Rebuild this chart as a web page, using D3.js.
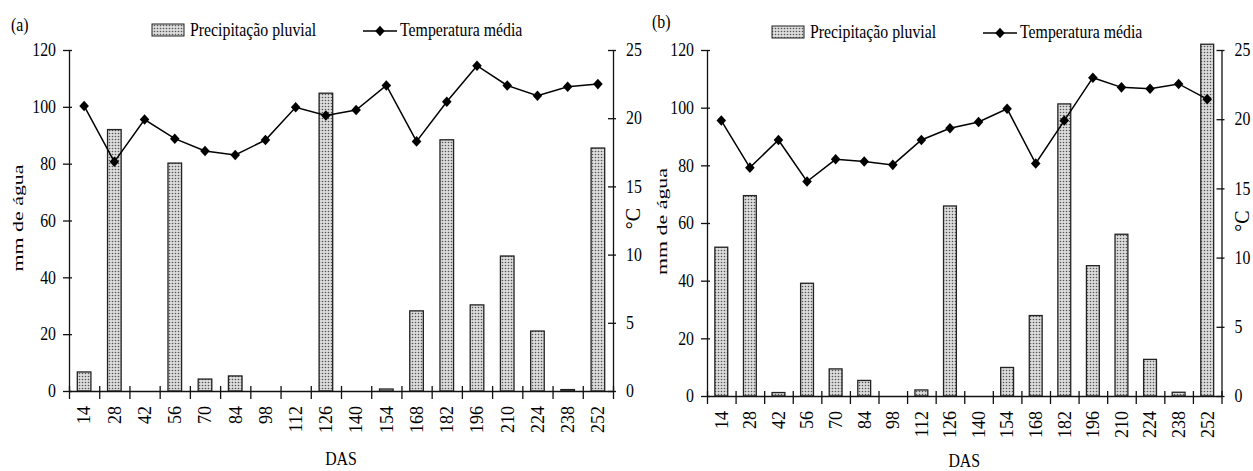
<!DOCTYPE html>
<html>
<head>
<meta charset="utf-8">
<script src="https://cdn.jsdelivr.net/npm/d3@7"></script>
<style>
  body { margin: 0; background: #fff; }
  svg text { font-family: "Liberation Serif", "Times New Roman", serif; fill: #000; }
</style>
</head>
<body>
<script>
const das = [14, 28, 42, 56, 70, 84, 98, 112, 126, 140, 154, 168, 182, 196, 210, 224, 238, 252]
const precipA = [6.7, 92, 0, 80.2, 4.2, 5.3, 0, 0, 104.8, 0, 0.7, 28.2, 88.4, 30.3, 47.5, 21.1, 0.5, 85.5]
const tempA = [20.9, 16.8, 19.9, 18.5, 17.6, 17.3, 18.4, 20.8, 20.2, 20.6, 22.4, 18.3, 21.2, 23.85, 22.4, 21.65, 22.3, 22.5]
const precipB = [51.6, 69.5, 1.2, 39.1, 9.4, 5.4, 0, 2.1, 65.9, 0, 9.9, 27.9, 101.3, 45.2, 56.1, 12.7, 1.3, 122]
const tempB = [19.9, 16.5, 18.5, 15.5, 17.1, 16.95, 16.7, 18.5, 19.35, 19.8, 20.75, 16.8, 19.9, 23.0, 22.3, 22.2, 22.55, 21.45]
const leftTicks = [0, 20, 40, 60, 80, 100, 120]
const rightTicks = [0, 5, 10, 15, 20, 25]

const sx = 0.88 // horizontal squeeze of the original's text

const svg = d3.select("body").append("svg")
    .attr("width", 1253)
    .attr("height", 471)

const defs = svg.append("defs")
const pat = defs.append("pattern")
    .attr("id", "dots")
    .attr("width", 3).attr("height", 3)
    .attr("patternUnits", "userSpaceOnUse")
pat.append("rect").attr("width", 3).attr("height", 3).attr("fill", "#dcdcdc")
pat.append("circle").attr("cx", 1.5).attr("cy", 1.5).attr("r", 0.8).attr("fill", "#555")

function hText(g, x, y, str, size, anchor) {
    g.append("g")
        .attr("transform", `translate(${x},${y}) scale(${sx},1)`)
        .append("text")
        .attr("text-anchor", anchor || "start")
        .style("font-size", size + "px")
        .text(str)
}

function drawPanel(o) {
    const g = svg.append("g")
    const x = d3.scaleBand().domain(das).range([o.x0, o.x1])
    const xEdge = d3.scaleLinear().domain([0, das.length]).range([o.x0, o.x1])
    const yL = d3.scaleLinear().domain([0, 120]).range([o.y0, o.y1])
    const yR = d3.scaleLinear().domain([0, 25]).range([o.y0, o.y1])

    // bars
    const bw = x.bandwidth() * 0.45
    g.append("g").selectAll("rect")
        .data(o.precip)
        .join("rect")
        .attr("x", (d, i) => x(das[i]) + x.bandwidth() / 2 - bw / 2)
        .attr("y", (d) => yL(d))
        .attr("width", bw)
        .attr("height", (d) => o.y0 - yL(d))
        .attr("fill", "url(#dots)")
        .attr("stroke", "#222")
        .attr("stroke-width", 1.3)

    // left axis
    const ax = g.append("g")
        .attr("transform", `translate(${o.x0},0)`)
        .call(d3.axisLeft(yL).tickValues(leftTicks).tickSize(6).tickSizeOuter(0))
    ax.selectAll(".tick line").attr("x1", 3)
    ax.selectAll(".tick text")
        .attr("x", -13 / sx)
        .attr("transform", `scale(${sx},1)`)
        .style("font-size", "18px")
        .attr("font-family", null)

    // right axis
    const ar = g.append("g")
        .attr("transform", `translate(${o.x1},0)`)
        .call(d3.axisRight(yR).tickValues(rightTicks).tickSize(3).tickSizeOuter(0))
    ar.selectAll(".tick line").attr("x1", -5)
    ar.selectAll(".tick text")
        .attr("x", 13 / sx)
        .attr("transform", `scale(${sx},1)`)
        .style("font-size", "18px")
        .attr("font-family", null)

    // bottom axis, ticks at category edges
    const ab = g.append("g")
        .attr("transform", `translate(0,${o.y0})`)
        .call(d3.axisBottom(xEdge).tickValues(d3.range(das.length + 1)).tickFormat("").tickSize(8).tickSizeOuter(0))
    ab.selectAll(".tick line").attr("y1", -5)

    g.selectAll(".domain, .tick line").attr("stroke", "#111").attr("stroke-width", 1.3)

    g.append("g").selectAll("text")
        .data(das)
        .join("text")
        .attr("transform", (d) => `translate(${x(d) + x.bandwidth() / 2},${o.y0 + 15}) rotate(-90)`)
        .attr("text-anchor", "end")
        .attr("dy", "0.35em")
        .style("font-size", "18px")
        .text((d) => d)

    // temperature line
    const line = d3.line()
        .x((d, i) => x(das[i]) + x.bandwidth() / 2)
        .y((d) => yR(d))
    g.append("path")
        .datum(o.temp)
        .attr("d", line)
        .attr("fill", "none")
        .attr("stroke", "#000")
        .attr("stroke-width", 1.5)
    const diamond = d3.symbol(d3.symbolSquare, 46)
    g.append("g").selectAll("path")
        .data(o.temp)
        .join("path")
        .attr("d", diamond)
        .attr("transform", (d, i) => `translate(${x(das[i]) + x.bandwidth() / 2},${yR(d)}) scale(1,1.1) rotate(45)`)
        .attr("fill", "#000")

    // titles
    g.append("text")
        .attr("transform", `translate(${o.ytx},${o.yty}) rotate(-90)`)
        .attr("text-anchor", "middle")
        .attr("dy", "0.35em")
        .attr("textLength", 107)
        .attr("lengthAdjust", "spacingAndGlyphs")
        .style("font-size", "14px")
        .text("mm de água")
    g.append("text")
        .attr("transform", `translate(${o.ctx},${o.cty}) rotate(-90)`)
        .attr("text-anchor", "middle")
        .attr("dy", "0.35em")
        .style("font-size", "20px")
        .text("°C")
    hText(g, (o.x0 + o.x1) / 2, o.dasY, "DAS", 18, "middle")
    hText(g, o.lx, o.ly, o.label, 18)

    // legend
    g.append("rect")
        .attr("x", o.legX).attr("y", o.legY - 12)
        .attr("width", 32).attr("height", 12)
        .attr("fill", "url(#dots)")
        .attr("stroke", "#222")
    hText(g, o.legX + 38, o.legY, "Precipitação pluvial", 18)
    g.append("line")
        .attr("x1", o.legX + 211).attr("x2", o.legX + 245)
        .attr("y1", o.legY - 5).attr("y2", o.legY - 5)
        .attr("stroke", "#000").attr("stroke-width", 1.5)
    g.append("path")
        .attr("d", diamond)
        .attr("transform", `translate(${o.legX + 228},${o.legY - 5}) scale(1,1.1) rotate(45)`)
        .attr("fill", "#000")
    hText(g, o.legX + 248, o.legY, "Temperatura média", 18)
}

drawPanel({
    x0: 69, x1: 613, y0: 391, y1: 50,
    precip: precipA, temp: tempA,
    ytx: 18.5, yty: 218, ctx: 632.5, cty: 218.5,
    lx: 11, ly: 31, label: "(a)", dasY: 465,
    legX: 152, legY: 36
})
drawPanel({
    x0: 707, x1: 1221.5, y0: 396, y1: 50,
    precip: precipB, temp: tempB,
    ytx: 662.5, yty: 221.5, ctx: 1242, cty: 221,
    lx: 652, ly: 28, label: "(b)", dasY: 467,
    legX: 772, legY: 38
})
</script>
</body>
</html>
